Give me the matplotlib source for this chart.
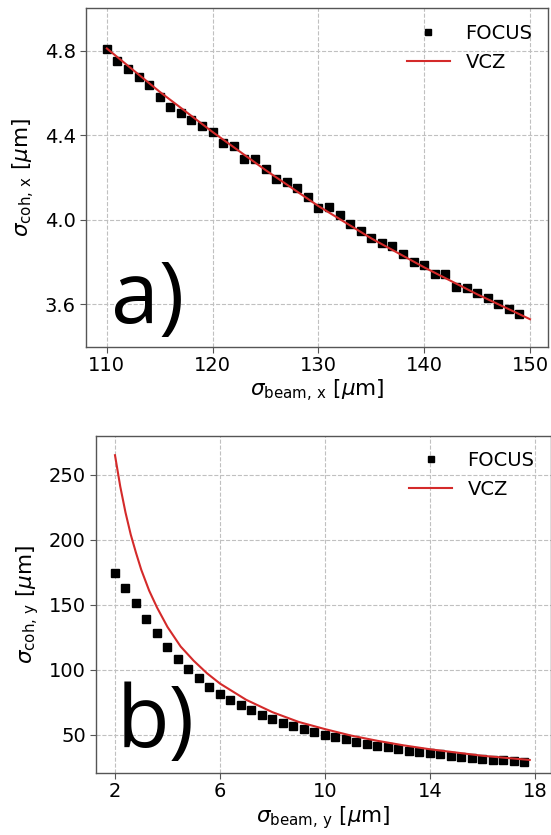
import matplotlib
matplotlib.use("Agg")
import matplotlib.pyplot as plt

# ---- Panel a data ----
beam_x = [110, 111, 112, 113, 114, 115, 116, 117, 118, 119,
          120, 121, 122, 123, 124, 125, 126, 127, 128, 129,
          130, 131, 132, 133, 134, 135, 136, 137, 138, 139,
          140, 141, 142, 143, 144, 145, 146, 147, 148, 149]
focus_x = [4.808, 4.751, 4.714, 4.677, 4.635, 4.580, 4.531, 4.505, 4.470, 4.442,
           4.413, 4.363, 4.350, 4.288, 4.286, 4.241, 4.195, 4.180, 4.151, 4.107,
           4.057, 4.061, 4.025, 3.978, 3.946, 3.915, 3.891, 3.875, 3.840, 3.800,
           3.786, 3.745, 3.742, 3.684, 3.679, 3.652, 3.629, 3.604, 3.577, 3.553]
vcz_beam_x = [110, 115, 120, 125, 130, 135, 140, 145, 150]
vcz_x = [4.81, 4.605, 4.415, 4.235, 4.065, 3.912, 3.775, 3.648, 3.53]

# ---- Panel b data ----
beam_y = [2.0, 2.4, 2.8, 3.2, 3.6, 4.0, 4.4, 4.8, 5.2, 5.6,
          6.0, 6.4, 6.8, 7.2, 7.6, 8.0, 8.4, 8.8, 9.2, 9.6,
          10.0, 10.4, 10.8, 11.2, 11.6, 12.0, 12.4, 12.8, 13.2, 13.6,
          14.0, 14.4, 14.8, 15.2, 15.6, 16.0, 16.4, 16.8, 17.2, 17.6]
focus_y = [174.4, 163.3, 151.3, 139.5, 128.2, 117.9, 108.2, 100.5, 94.0, 86.9,
           81.3, 76.9, 72.8, 69.0, 65.6, 62.3, 59.5, 56.7, 54.4, 52.3,
           50.2, 48.2, 46.6, 44.8, 43.3, 41.8, 40.5, 39.0, 38.0, 37.0,
           36.0, 35.0, 34.2, 33.4, 32.6, 31.8, 31.1, 30.4, 29.8, 29.0]
vcz_beam_y = [2.0, 2.2, 2.4, 2.6, 2.8, 3.0, 3.3, 3.6, 4.0, 4.5, 5.0, 5.5, 6.0,
              7.0, 8.0, 9.0, 10.0, 11.0, 12.0, 13.0, 14.0, 15.0, 16.0, 17.0, 17.8]
vcz_y = [265, 241, 221, 204, 190, 177, 161, 148, 133, 118, 107, 97.5, 89.5,
         77, 67.5, 60, 54.5, 49.5, 45.5, 42, 39, 36.5, 34, 32.2, 30.8]

plt.rcParams['font.family'] = ['DejaVu Sans']
plt.rcParams['font.size'] = 14

fig = plt.figure(figsize=(5.51, 8.35), dpi=100)

red = '#d42a2a'
spine_c = '#555555'
TICK_FS = 14
LAB_FS = 15.5
LEG_FS = 14


def style(ax):
    ax.grid(True, linestyle='--', color='#c0c0c0', linewidth=0.8)
    ax.set_axisbelow(True)
    for s in ax.spines.values():
        s.set_color(spine_c)
        s.set_linewidth(1.0)
    ax.tick_params(labelsize=TICK_FS, color=spine_c, length=4, pad=3)


# Panel a
ax1 = fig.add_axes([85.7 / 551, 1 - 346.7 / 835, (548 - 85.7) / 551, (346.7 - 8.3) / 835])
style(ax1)
ax1.plot(beam_x, focus_x, 's', color='black', markersize=5.8, label='FOCUS', zorder=3)
ax1.plot(vcz_beam_x, vcz_x, '-', color=red, linewidth=1.5, label='VCZ', zorder=4)
ax1.set_xlim(108, 151.7)
ax1.set_ylim(3.4, 5.0)
ax1.set_xticks([110, 120, 130, 140, 150])
ax1.set_yticks([3.6, 4.0, 4.4, 4.8])
ax1.set_xlabel(r'$\sigma_{\mathrm{beam,\,x}}$ [$\mu$m]', fontsize=LAB_FS, labelpad=2)
ax1.set_ylabel(r'$\sigma_{\mathrm{coh,\,x}}$ [$\mu$m]', fontsize=LAB_FS, labelpad=6)
ax1.legend(loc='upper right', frameon=False, fontsize=LEG_FS, handlelength=2.2,
           borderaxespad=0.4, markerscale=0.85)
ax1.text(0.055, 0.07, 'a)', transform=ax1.transAxes, fontsize=62,
         family='Open Sans', ha='left', va='baseline')

# Panel b
ax2 = fig.add_axes([95.7 / 551, 1 - 772.7 / 835, (551 - 95.7) / 551, (772.7 - 435.7) / 835])
style(ax2)
ax2.plot(beam_y, focus_y, 's', color='black', markersize=5.8, label='FOCUS', zorder=3)
ax2.plot(vcz_beam_y, vcz_y, '-', color=red, linewidth=1.5, label='VCZ', zorder=4)
ax2.set_xlim(1.265, 18.61)
ax2.set_ylim(21, 280)
ax2.set_xticks([2, 6, 10, 14, 18])
ax2.set_yticks([50, 100, 150, 200, 250])
ax2.set_xlabel(r'$\sigma_{\mathrm{beam,\,y}}$ [$\mu$m]', fontsize=LAB_FS, labelpad=2)
ax2.set_ylabel(r'$\sigma_{\mathrm{coh,\,y}}$ [$\mu$m]', fontsize=LAB_FS, labelpad=6)
ax2.legend(loc='upper right', frameon=False, fontsize=LEG_FS, handlelength=2.2,
           borderaxespad=0.4, markerscale=0.85, bbox_to_anchor=(0.998, 1.0))
ax2.text(0.045, 0.075, 'b)', transform=ax2.transAxes, fontsize=62,
         family='Open Sans', ha='left', va='baseline')

fig.savefig('out.png', dpi=100)
